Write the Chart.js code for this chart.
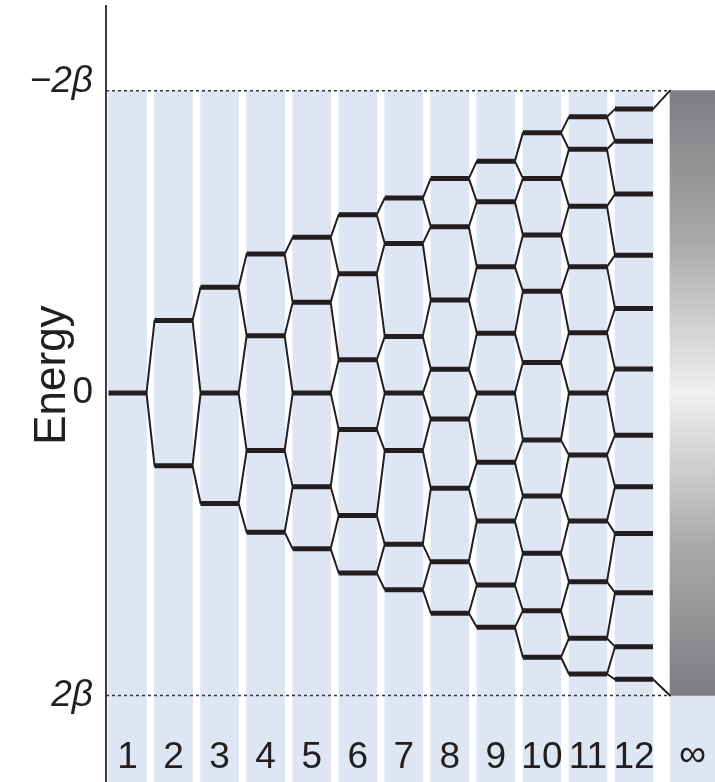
<!DOCTYPE html>
<html>
<head>
<meta charset="utf-8">
<script src="https://cdn.jsdelivr.net/npm/chart.js@4.4.0/dist/chart.umd.min.js"></script>
<style>
  html, body { margin: 0; padding: 0; background: #ffffff; }
  #wrap { width: 715px; height: 782px; position: relative; }
</style>
</head>
<body>
<div id="wrap"><canvas id="c" width="715" height="782"></canvas></div>
<script>
// ---------- data (energies in units of beta; -2 is the top edge "−2β") ----------
const chainLengths = [1, 2, 3, 4, 5, 6, 7, 8, 9, 10, 11, 12];
const columnLabels = ['1', '2', '3', '4', '5', '6', '7', '8', '9', '10', '11', '12'];
const infinityLabel = '∞';
const levels1  = [0];
const levels2  = [-0.48, 0.48];
const levels3  = [-0.70, 0, 0.73];
const levels4  = [-0.92, -0.38, 0.38, 0.92];
const levels5  = [-1.03, -0.60, 0, 0.62, 1.03];
const levels6  = [-1.18, -0.79, -0.22, 0.24, 0.81, 1.19];
const levels7  = [-1.29, -0.99, -0.375, 0, 0.38, 1.00, 1.30];
const levels8  = [-1.42, -1.10, -0.615, -0.157, 0.172, 0.63, 1.115, 1.456];
const levels9  = [-1.534, -1.265, -0.835, -0.395, 0, 0.458, 0.846, 1.269, 1.549];
const levels10 = [-1.721, -1.42, -1.045, -0.674, -0.203, 0.311, 0.681, 1.06, 1.439, 1.747];
const levels11 = [-1.827, -1.613, -1.236, -0.835, -0.399, 0, 0.41, 0.846, 1.248, 1.622, 1.858];
const levels12 = [-1.878, -1.666, -1.316, -0.912, -0.56, -0.159, 0.278, 0.619, 0.928, 1.32, 1.677, 1.893];
const energyLevels = [levels1, levels2, levels3, levels4, levels5, levels6,
                      levels7, levels8, levels9, levels10, levels11, levels12];
const bandEdges = [-2, 2];
const tickValues = [-2, 0, 2];
const tickLabels = ['−2β', '0', '2β'];
const axisTitle = 'Energy';

// ---------- layout / style ----------
const X_MIN = 0.533, X_MAX = 13.759;
const Y_MIN = -2.56, Y_MAX = 2.572;
const COL_PX = 38, HALF = 0.4126;          // column width (px) and half width (x units)
const INF_X = 13.27, INF_PX = 45, INF_HALF = 0.4887;
const INK = '#231f20';
const BLUE = '#dfe6f3';

// ---------- derived datasets ----------
const columnBars = chainLengths.map(n => ({ x: n, y: [bandEdges[0], Y_MAX] }));
const infBlue = [{ x: INF_X, y: [bandEdges[1], Y_MAX] }];
const infBand = [{ x: INF_X, y: [bandEdges[0], bandEdges[1]] }];

const levelPts = [];
chainLengths.forEach((n, i) => {
  energyLevels[i].forEach(e => {
    levelPts.push({ x: n - HALF, y: e }, { x: n + HALF, y: e }, { x: n + HALF, y: null });
  });
});

const connPts = [];
function seg(x1, y1, x2, y2) { connPts.push({ x: x1, y: y1 }, { x: x2, y: y2 }, { x: x2, y: null }); }
for (let i = 0; i < chainLengths.length - 1; i++) {
  const n = chainLengths[i], next = chainLengths[i + 1];
  energyLevels[i].forEach((e, k) => {
    seg(n + HALF, e, next - HALF, energyLevels[i + 1][k]);
    seg(n + HALF, e, next - HALF, energyLevels[i + 1][k + 1]);
  });
}
{
  const last = energyLevels[energyLevels.length - 1];
  const n = chainLengths[chainLengths.length - 1];
  seg(n + HALF, last[0], INF_X - INF_HALF, bandEdges[0]);
  seg(n + HALF, last[last.length - 1], INF_X - INF_HALF, bandEdges[1]);
}

const dotPts = [];
bandEdges.forEach(b => {
  dotPts.push({ x: X_MIN, y: b }, { x: INF_X - INF_HALF, y: b }, { x: INF_X - INF_HALF, y: null });
});

function bandGradient(ctx) {
  const chart = ctx.chart;
  if (!chart.chartArea) return '#999';
  const ys = chart.scales.y;
  const g = chart.ctx.createLinearGradient(0, ys.getPixelForValue(bandEdges[0]), 0, ys.getPixelForValue(bandEdges[1]));
  g.addColorStop(0, 'rgb(124,125,128)');
  g.addColorStop(0.25, 'rgb(170,170,172)');
  g.addColorStop(0.5, 'rgb(240,240,240)');
  g.addColorStop(0.75, 'rgb(170,170,172)');
  g.addColorStop(1, 'rgb(124,125,128)');
  return g;
}

const labelPlugin = {
  id: 'textLabels',
  afterDraw(chart) {
    const { ctx, chartArea, scales: { x, y } } = chart;
    ctx.save();
    ctx.fillStyle = INK;
    ctx.textAlign = 'center';
    ctx.textBaseline = 'alphabetic';
    ctx.font = '37px "Liberation Sans", Arial, sans-serif';
    chainLengths.forEach((n, i) => {
      ctx.fillText(columnLabels[i], x.getPixelForValue(n), chartArea.bottom - 14);
    });
    ctx.font = '38px "Liberation Sans", Arial, sans-serif';
    ctx.fillText(infinityLabel, x.getPixelForValue(INF_X), chartArea.bottom - 16);
    const midY = (y.getPixelForValue(bandEdges[0]) + y.getPixelForValue(bandEdges[1])) / 2;
    ctx.translate(chartArea.left - 41, midY - 18);
    ctx.rotate(-Math.PI / 2);
    ctx.font = '44px "Liberation Sans", Arial, sans-serif';
    ctx.fillText(axisTitle, 0, 0);
    ctx.restore();
  }
};

new Chart(document.getElementById('c'), {
  type: 'bar',
  data: {
    datasets: [
      { type: 'line', data: levelPts, borderColor: INK, borderWidth: 5, pointRadius: 0,
        borderCapStyle: 'butt', tension: 0, spanGaps: false, order: 1 },
      { type: 'line', data: connPts, borderColor: INK, borderWidth: 2, pointRadius: 0,
        borderCapStyle: 'round', tension: 0, spanGaps: false, order: 2 },
      { type: 'line', data: dotPts, borderColor: '#333333', borderWidth: 1.6, borderDash: [3, 3],
        pointRadius: 0, tension: 0, spanGaps: false, order: 3 },
      { type: 'bar', data: infBand, backgroundColor: bandGradient, borderWidth: 0,
        barThickness: INF_PX, grouped: false, order: 4 },
      { type: 'bar', data: infBlue, backgroundColor: BLUE, borderWidth: 0,
        barThickness: INF_PX, grouped: false, order: 5 },
      { type: 'bar', data: columnBars, backgroundColor: BLUE, borderWidth: 0,
        barThickness: COL_PX, grouped: false, order: 6 }
    ]
  },
  options: {
    responsive: false,
    animation: false,
    events: [],
    layout: { padding: { top: 6, right: 0, bottom: 0, left: 0 } },
    plugins: { legend: { display: false }, tooltip: { enabled: false } },
    scales: {
      x: { type: 'linear', min: X_MIN, max: X_MAX, offset: false, display: false,
           afterBuildTicks: s => { s.ticks = chainLengths.map(v => ({ value: v })); } },
      y: {
        type: 'linear', reverse: true, min: Y_MIN, max: Y_MAX,
        afterFit: s => { s.width = 106; s.paddingTop = 0; s.paddingBottom = 0; },
        afterBuildTicks: s => { s.ticks = tickValues.map(v => ({ value: v })); },
        grid: { display: false, drawTicks: false },
        border: { display: true, color: '#3c3c3c', width: 2 },
        ticks: {
          padding: 13,
          autoSkip: false,
          color: INK,
          font: c => ({ family: '"Liberation Sans", Arial, sans-serif', size: 37,
                        lineHeight: (c.tick && c.tick.value === tickValues[0]) ? 0.46 : 1.2,
                        style: (c.tick && c.tick.value !== 0) ? 'italic' : 'normal' }),
          callback: v => {
            const lbl = tickLabels[tickValues.indexOf(v)];
            return v === tickValues[0] ? [lbl, ''] : lbl;
          }
        }
      }
    }
  },
  plugins: [labelPlugin]
});
</script>
</body>
</html>
